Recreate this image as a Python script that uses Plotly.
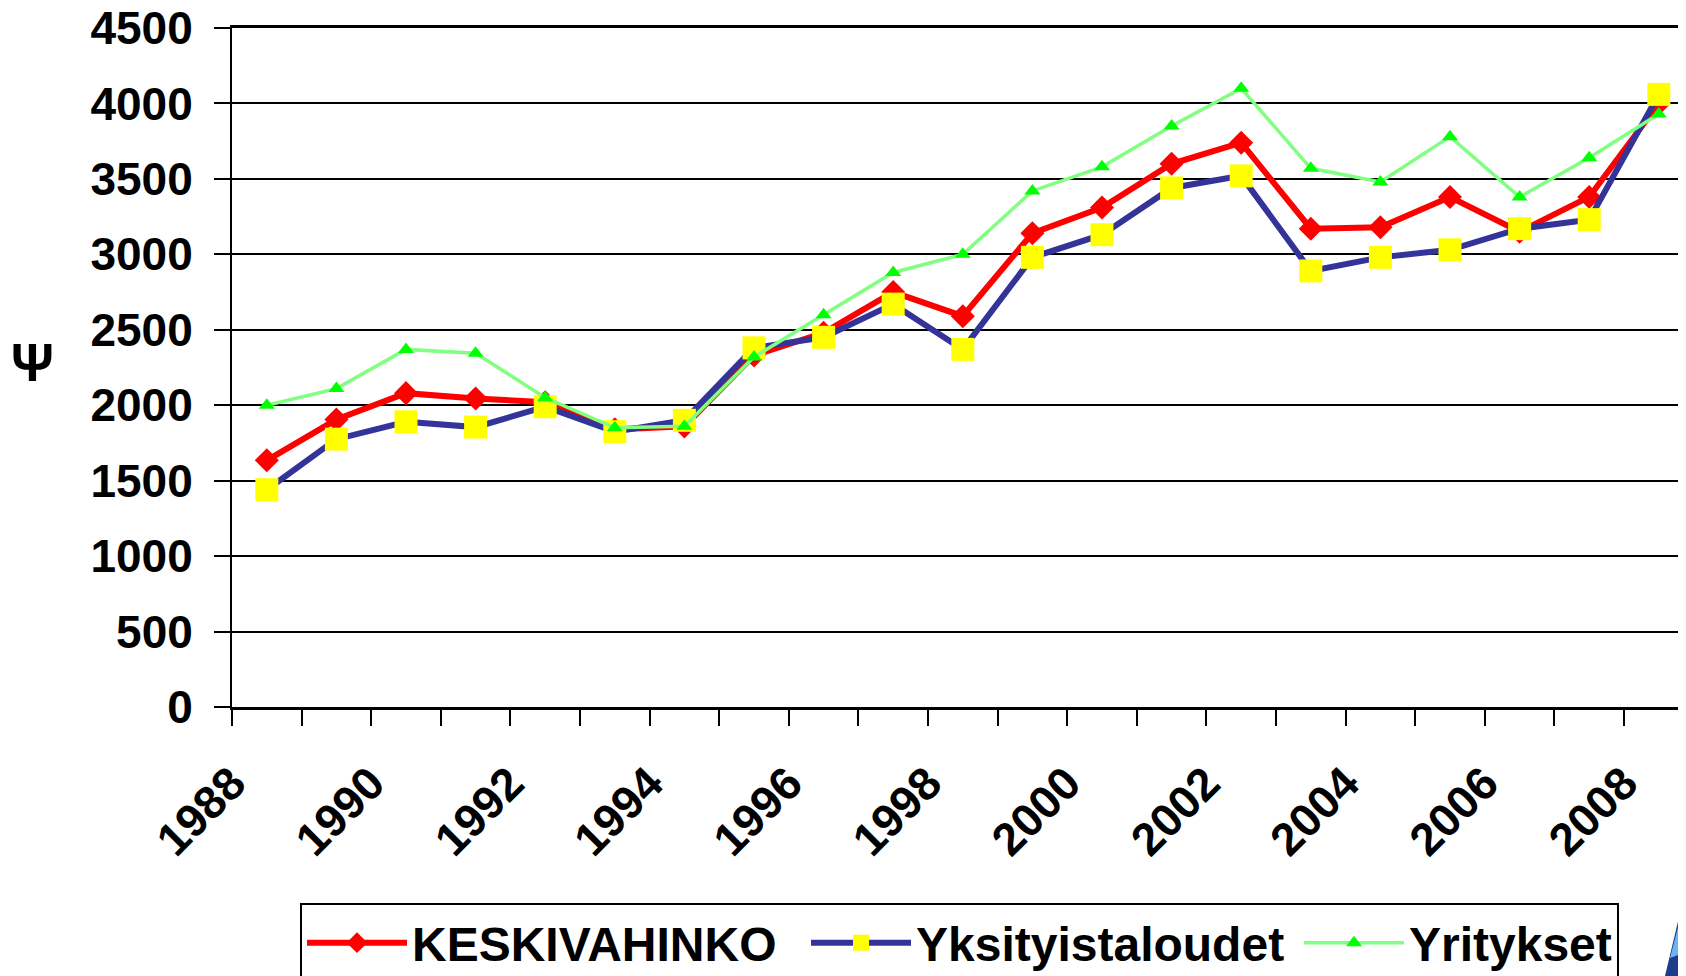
import plotly.graph_objects as go

years = [1988, 1989, 1990, 1991, 1992, 1993, 1994, 1995, 1996, 1997, 1998,
         1999, 2000, 2001, 2002, 2003, 2004, 2005, 2006, 2007, 2008]
keskivahinko = [1635, 1905, 2080, 2045, 2020, 1840, 1860, 2330, 2480, 2750, 2590,
                3140, 3310, 3600, 3740, 3170, 3180, 3380, 3150, 3380, 4000]
yksityistaloudet = [1440, 1775, 1890, 1855, 1990, 1825, 1900, 2380, 2450, 2670, 2370,
                    2980, 3130, 3440, 3520, 2890, 2980, 3030, 3170, 3230, 4060]
yritykset = [2000, 2110, 2370, 2345, 2050, 1850, 1860, 2320, 2600, 2880, 3000,
             3420, 3580, 3850, 4100, 3570, 3480, 3780, 3380, 3640, 3930]
tick_labels = ["1988", "1990", "1992", "1994", "1996", "1998", "2000", "2002",
               "2004", "2006", "2008"]
y_tick_values = [0, 500, 1000, 1500, 2000, 2500, 3000, 3500, 4000, 4500]
y_title = "Ψ"

FONT = "Liberation Sans, Arial, sans-serif"

# page body has an 8px margin: figure is sized so that it fills the window exactly
W, H = 1678, 968
ML, MT, MB, MR = 224, 20, 269, 0
PW, PH = W - ML - MR, H - MT - MB


def px(x):  # screen px -> paper x
    return (x - 8 - ML) / PW


def py(y):  # screen px -> paper y
    return (H - MB - (y - 8)) / PH


fig = go.Figure()
fig.add_trace(go.Scatter(
    x=years, y=keskivahinko, name="KESKIVAHINKO", mode="lines+markers",
    line=dict(color="#FF0000", width=6),
    marker=dict(symbol="diamond", size=18.5, color="#FF0000"),
    legendwidth=389))
fig.add_trace(go.Scatter(
    x=years, y=yksityistaloudet, name="Yksityistaloudet", mode="lines+markers",
    line=dict(color="#333399", width=6),
    marker=dict(symbol="square", size=23, color="#FFFF00"),
    legendwidth=378))
fig.add_trace(go.Scatter(
    x=years, y=yritykset, name="Yritykset", mode="lines+markers",
    line=dict(color="#80FF80", width=3.5),
    marker=dict(symbol="triangle-up", size=14, color="#00FF00")))

# ticks on category boundaries, labels on every other boundary
tickvals = [y - 0.5 for y in years]
label_map = {int(t): t for t in tick_labels}
ticktext = [label_map.get(y, "") for y in years]

fig.update_layout(
    width=W, height=H,
    margin=dict(l=ML, r=MR, t=MT, b=MB),
    paper_bgcolor="white", plot_bgcolor="white",
    font=dict(family=FONT, size=46, color="black", weight="bold"),
    showlegend=True,
    legend=dict(orientation="h", xref="container", yref="container",
                x=(300 - 8) / W, xanchor="left", y=1 - (903 - 8) / H, yanchor="top",
                bordercolor="black", borderwidth=2, bgcolor="white",
                font=dict(family=FONT, size=48, color="black", weight="bold"),
                itemwidth=100),
    xaxis=dict(type="linear", range=[1987.5, 1987.5 + PW / 69.6], automargin=False,
               tickmode="array", tickvals=tickvals, ticktext=ticktext,
               ticks="outside", ticklen=16, tickwidth=2, tickcolor="black",
               tickangle=-45, ticklabelshift=0, ticklabelstandoff=12,
               ticklabeloverflow="allow",
               showgrid=False, zeroline=False, mirror=True,
               showline=True, linecolor="black", linewidth=2.5),
    yaxis=dict(range=[0, 4500], tickmode="array", automargin=False,
               tickvals=y_tick_values,
               ticks="outside", ticklen=16, tickwidth=2, tickcolor="black",
               ticklabeloverflow="allow",
               showgrid=True, gridcolor="black", gridwidth=2,
               zeroline=False, showline=True, linecolor="black", linewidth=2,
               ticklabelstandoff=12),
)
fig.add_annotation(text=y_title, xref="paper", yref="paper",
                   x=px(32), y=py(362), xanchor="center", yanchor="middle",
                   showarrow=False,
                   font=dict(family=FONT, size=53, color="black", weight="bold"))


# decorative logo fragment at the bottom-right corner
def path(pts):
    return "M " + " L ".join(f"{px(x):.5f},{py(y):.5f}" for x, y in pts) + " Z"


fig.add_shape(type="path", xref="paper", yref="paper", layer="above",
              path=path([(1686, 888), (1665, 976), (1686, 976)]),
              fillcolor="#1E3C8C", line=dict(width=0))
fig.add_shape(type="path", xref="paper", yref="paper", layer="above",
              path=path([(1685, 900), (1670, 958), (1686, 952)]),
              fillcolor="#6AB4F0", line=dict(width=0))

fig.write_html("out.html")
